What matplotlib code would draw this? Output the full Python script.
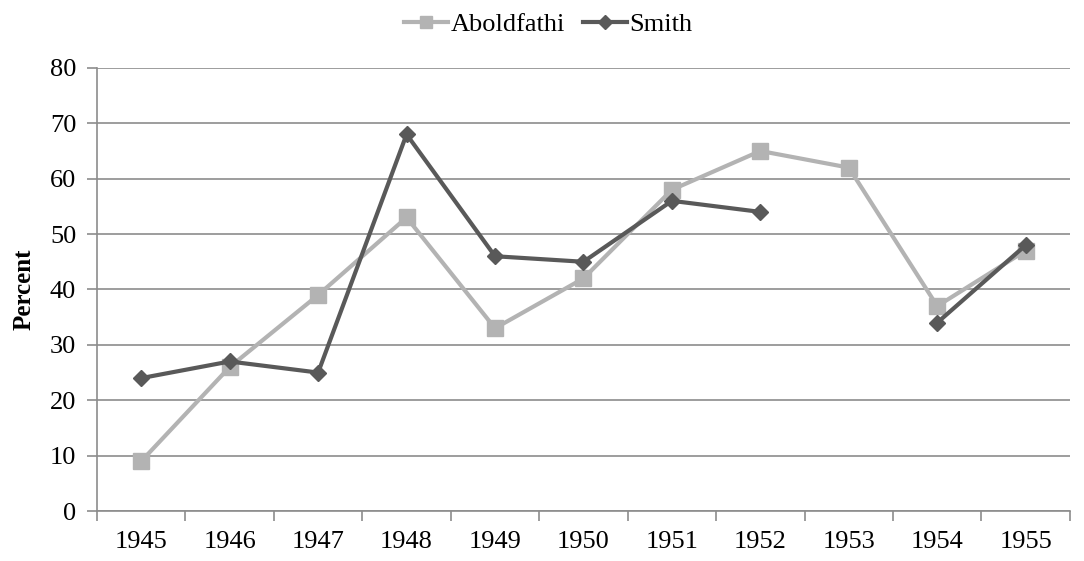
import numpy as np
import matplotlib
matplotlib.use("Agg")
import matplotlib.pyplot as plt

years = ["1945", "1946", "1947", "1948", "1949", "1950", "1951", "1952", "1953", "1954", "1955"]
aboldfathi = [9, 26, 39, 53, 33, 42, 58, 65, 62, 37, 47]
smith = [24, 27, 25, 68, 46, 45, 56, 54, np.nan, 34, 48]

plt.rcParams['font.family'] = ['Liberation Serif', 'DejaVu Serif']
plt.rcParams['font.size'] = 19

fig = plt.figure(figsize=(10.84, 5.61), dpi=100)
ax = fig.add_axes([0.0895, 0.089, 0.8975, 0.79])

x = np.arange(len(years))
ax.plot(x, aboldfathi, color='#b3b3b3', lw=3, marker='s', ms=11, label='Aboldfathi', zorder=3)
ax.plot(x, smith, color='#595959', lw=3, marker='D', ms=8.5, label='Smith', zorder=4)

ax.set_xlim(-0.5, len(years) - 0.5)
ax.set_ylim(0, 80)
ax.set_yticks(np.arange(0, 81, 10))
ax.yaxis.grid(True, color='#8c8c8c', lw=1.2)
ax.set_axisbelow(True)

# category boundaries get the tick marks, labels sit at the centres
ax.set_xticks(np.arange(-0.5, len(years)), labels=[])
ax.set_xticks(x, labels=years, minor=True)
ax.tick_params(axis='x', which='major', length=7, color='#8c8c8c', width=1.2)
ax.tick_params(axis='x', which='minor', length=0, pad=14)
ax.tick_params(axis='y', length=7, color='#8c8c8c', width=1.2, pad=8)

for side in ['top', 'right']:
    ax.spines[side].set_visible(False)
for side in ['left', 'bottom']:
    ax.spines[side].set_color('#8c8c8c')
    ax.spines[side].set_linewidth(1.2)

ax.set_ylabel('Percent', fontweight='bold', fontsize=18, labelpad=10)

fig.legend(loc='upper center', bbox_to_anchor=(0.5055, 1.02), ncol=2, frameon=False,
           handlelength=1.67, handletextpad=0.1, columnspacing=0.68, markerscale=0.85)

fig.savefig('out.png', dpi=100)
